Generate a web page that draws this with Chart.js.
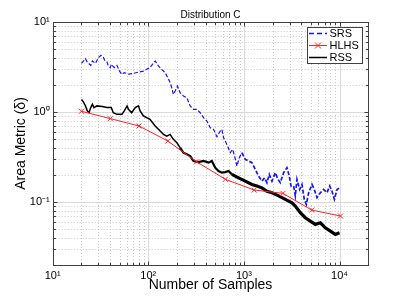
<!DOCTYPE html>
<html>
<head>
<meta charset="utf-8">
<script src="https://cdn.jsdelivr.net/npm/chart.js@4.4.0/dist/chart.umd.min.js"></script>
<style>
  html, body { margin: 0; padding: 0; background: #fff; }
  #wrap { width: 407px; height: 298px; }
</style>
</head>
<body>
<div id="wrap"><canvas id="chart"></canvas></div>
<script>
// values
const srsX = [20, 22, 23, 25, 26, 28, 30, 32, 34, 35, 37, 38, 40, 41, 44, 47, 50, 53, 56, 62,
  70, 79, 89, 96, 104, 118, 128, 138, 150, 163, 172, 183, 191, 202, 215, 233, 253, 274, 297, 322,
  349, 378, 410, 444, 481, 522, 565, 588, 613, 664, 719, 761, 799, 845, 894, 953, 1033, 1119, 1213, 1314,
  1424, 1543, 1646, 1741, 1842, 1965, 2129, 2270, 2401, 2602, 2819, 2983, 3105, 3312, 3448, 3589, 3828, 4049, 4282, 4495,
  4754, 5152, 5452, 5813, 6300, 6828, 7398, 7889, 8346, 8830, 9415, 10000];
const srsY = [3.47, 3.91, 3.59, 3.30, 3.69, 3.47, 4.02, 4.26, 4.02, 3.75, 3.59, 3.30, 3.11, 3.39, 3.11, 3.30, 2.85, 2.62, 2.74, 2.64,
  2.69, 2.78, 2.85, 2.98, 3.11, 3.69, 3.24, 2.98, 2.74, 2.31, 2.03, 1.57, 1.71, 1.94, 1.64, 1.51, 1.44, 1.17, 1.07, 1.07,
  0.983, 0.865, 0.794, 0.670, 0.642, 0.532, 0.615, 0.642, 0.519, 0.437, 0.353, 0.385, 0.324, 0.251, 0.311, 0.353, 0.298, 0.286, 0.274, 0.231,
  0.194, 0.171, 0.186, 0.164, 0.203, 0.171, 0.212, 0.179, 0.164, 0.212, 0.241, 0.194, 0.151, 0.151, 0.117, 0.179, 0.138, 0.157, 0.107, 0.094,
  0.127, 0.157, 0.138, 0.112, 0.127, 0.138, 0.127, 0.151, 0.132, 0.107, 0.138, 0.144];

const hlhsX = [20, 40, 80, 160, 320, 640, 1280, 2560, 5120, 10240];
const hlhsY = [1.02, 0.845, 0.70, 0.476, 0.28, 0.179, 0.136, 0.125, 0.0815, 0.070];

const rssX = [20, 21, 22, 23, 24, 25, 26, 27, 29, 33, 37, 41, 43, 47, 53, 56, 60, 62, 67, 73,
  79, 82, 89, 96, 104, 118, 133, 144, 156, 169, 183, 199, 215, 233, 253, 274, 297, 335, 378, 427,
  462, 501, 543, 588, 638, 691, 749, 879, 1033, 1213, 1368, 1543, 1741, 1965, 2307, 2709, 3181, 3448, 3890, 4388,
  4950, 5584, 6300, 7106, 8017, 9044, 10000];
const rssY = [1.38, 1.29, 1.17, 1.03, 0.983, 1.12, 1.22, 1.12, 1.17, 1.15, 1.12, 1.12, 0.983, 0.942, 0.942, 1.03, 1.17, 1.07, 0.983, 1.12,
  1.17, 1.03, 0.903, 0.865, 0.829, 0.699, 0.615, 0.565, 0.541, 0.565, 0.497, 0.456, 0.402, 0.353, 0.339, 0.324, 0.286, 0.278, 0.286, 0.274,
  0.286, 0.241, 0.221, 0.212, 0.215, 0.221, 0.203, 0.186, 0.171, 0.157, 0.151, 0.144, 0.132, 0.127, 0.117, 0.107, 0.0983, 0.0903, 0.0761, 0.0670,
  0.0615, 0.0565, 0.0589, 0.0519, 0.0476, 0.0437, 0.0456];

const xMajor = [10, 100, 1000, 10000];
const yMajor = [0.1, 1, 10];
const xTickLabels = ['10\u00b9', '10\u00b2', '10\u00b3', '10\u2074'];
const yTickLabels = ['10\u207b\u00b9', '10\u2070', '10\u00b9'];

const FONT = '"Liberation Sans", Arial, Helvetica, sans-serif';
const pts = (xs, ys) => xs.map((v, i) => ({ x: v, y: ys[i] }));

// minor grid positions (2..9 of each decade)
const xMinor = [], yMinor = [];
[10, 100, 1000, 10000].forEach(d => { for (let m = 2; m <= 9; m++) if (m * d <= 20000) xMinor.push(m * d); });
[0.01, 0.1, 1].forEach(d => { for (let m = 2; m <= 9; m++) yMinor.push(m * d); });

const framePlugin = {
  id: 'frame',
  beforeDatasetsDraw(chart) {
    const { ctx, chartArea: a, scales: { x, y } } = chart;
    ctx.save();
    ctx.lineWidth = 1;
    ctx.strokeStyle = '#c8c8c8';
    ctx.setLineDash([1, 2]);
    ctx.beginPath();
    xMinor.forEach(v => {
      const px = Math.round(x.getPixelForValue(v)) + 0.5;
      ctx.moveTo(px, a.top); ctx.lineTo(px, a.bottom);
    });
    yMinor.forEach(v => {
      const py = Math.round(y.getPixelForValue(v)) + 0.5;
      if (py <= a.top + 1 || py >= a.bottom - 1) return;
      ctx.moveTo(a.left, py); ctx.lineTo(a.right, py);
    });
    ctx.stroke();
    ctx.setLineDash([]);
    ctx.strokeStyle = '#dadada';
    ctx.beginPath();
    xMajor.forEach(v => {
      const px = Math.round(x.getPixelForValue(v)) + 0.5;
      ctx.moveTo(px, a.top); ctx.lineTo(px, a.bottom);
    });
    yMajor.forEach(v => {
      const py = Math.round(y.getPixelForValue(v)) + 0.5;
      ctx.moveTo(a.left, py); ctx.lineTo(a.right, py);
    });
    ctx.stroke();
    ctx.restore();
  },
  afterDatasetsDraw(chart) {
    const { ctx, chartArea: a, scales: { x, y } } = chart;
    const L = Math.round(a.left) + 0.5, R = Math.round(a.right) + 0.5;
    const T = Math.round(a.top) + 0.5, B = Math.round(a.bottom) + 0.5;
    ctx.save();
    ctx.strokeStyle = '#404040';
    ctx.lineWidth = 1;
    ctx.strokeRect(L, T, R - L, B - T);
    // inward ticks on all four sides
    ctx.beginPath();
    const xt = (v, len) => {
      const px = Math.round(x.getPixelForValue(v)) + 0.5;
      ctx.moveTo(px, B); ctx.lineTo(px, B - len);
      ctx.moveTo(px, T); ctx.lineTo(px, T + len);
    };
    const yt = (v, len) => {
      const py = Math.round(y.getPixelForValue(v)) + 0.5;
      ctx.moveTo(L, py); ctx.lineTo(L + len, py);
      ctx.moveTo(R, py); ctx.lineTo(R - len, py);
    };
    xMajor.forEach(v => xt(v, 4));
    xMinor.forEach(v => xt(v, 2.5));
    yMajor.forEach(v => yt(v, 4));
    yMinor.forEach(v => yt(v, 2.5));
    ctx.stroke();

    // legend
    const lx = 307.5, ly = 27.5, lw = 55, lh = 36;
    ctx.fillStyle = '#fff';
    ctx.fillRect(lx, ly, lw, lh);
    ctx.strokeStyle = '#404040';
    ctx.strokeRect(lx, ly, lw, lh);
    const rows = [33.5, 45.5, 57.5];
    ctx.font = '11px ' + FONT;
    ctx.textBaseline = 'middle';
    ctx.textAlign = 'left';
    chart.data.datasets.forEach((ds, i) => {
      const ry = rows[i];
      ctx.strokeStyle = ds.borderColor;
      ctx.lineWidth = ds.legendWidth;
      ctx.setLineDash(ds.legendDash || []);
      ctx.beginPath();
      ctx.moveTo(309, ry); ctx.lineTo(327, ry);
      ctx.stroke();
      ctx.setLineDash([]);
      if (ds.pointRadius > 0) {
        ctx.lineWidth = 1;
        const r = 3;
        ctx.beginPath();
        ctx.moveTo(318 - r, ry - r); ctx.lineTo(318 + r, ry + r);
        ctx.moveTo(318 - r, ry + r); ctx.lineTo(318 + r, ry - r);
        ctx.stroke();
      }
      ctx.fillStyle = '#000';
      ctx.fillText(ds.label, 329.5, ry + 0.5);
    });

    // titles
    ctx.fillStyle = '#000';
    ctx.textAlign = 'center';
    ctx.font = '10px ' + FONT;
    ctx.fillText('Distribution C', (a.left + a.right) / 2, 15);
    ctx.font = '14px ' + FONT;
    ctx.fillText('Number of Samples', (a.left + a.right) / 2, 285);
    ctx.translate(21, (a.top + a.bottom) / 2);
    ctx.rotate(-Math.PI / 2);
    ctx.fillText('Area Metric (\u03b4)', 0, 0);
    ctx.restore();
  }
};

new Chart(document.getElementById('chart'), {
  type: 'line',
  data: {
    datasets: [
      {
        label: 'SRS',
        data: pts(srsX, srsY),
        borderColor: 'rgb(20,20,255)',
        borderWidth: 1.2,
        legendWidth: 1.5,
        legendDash: [5, 3],
        borderDash: [4, 2],
        pointRadius: 0,
        order: 2,
        segment: { borderWidth: c => (c.p0.parsed.x > 900 ? 1.7 : 1.2) }
      },
      {
        label: 'HLHS',
        data: pts(hlhsX, hlhsY),
        borderColor: 'rgb(255,35,35)',
        borderWidth: 1,
        legendWidth: 1,
        pointStyle: 'crossRot',
        pointRadius: 3.5,
        pointBorderWidth: 1,
        pointBorderColor: 'rgb(255,35,35)',
        order: 0
      },
      {
        label: 'RSS',
        data: pts(rssX, rssY),
        borderColor: '#000',
        borderWidth: 1.5,
        legendWidth: 1.5,
        pointRadius: 0,
        order: 1,
        segment: { borderWidth: c => (c.p0.parsed.x >= 700 ? 3.2 : c.p0.parsed.x >= 200 ? 2.2 : 1.5) }
      }
    ]
  },
  options: {
    responsive: true,
    maintainAspectRatio: false,
    animation: false,
    devicePixelRatio: 1,
    layout: { padding: { top: 22, right: 38.7, left: 0, bottom: 0 } },
    plugins: { legend: { display: false }, tooltip: { enabled: false }, title: { display: false } },
    elements: { line: { tension: 0 } },
    scales: {
      x: {
        type: 'logarithmic',
        min: 10,
        max: 20000,
        grid: { display: false, drawTicks: false },
        border: { display: false },
        afterBuildTicks: s => { s.ticks = xMajor.map(v => ({ value: v })); },
        afterFit: s => { s.height = 33; },
        ticks: {
          autoSkip: false,
          maxRotation: 0,
          padding: 4,
          color: '#000',
          font: { family: FONT, size: 11 },
          callback: v => xTickLabels[xMajor.indexOf(v)]
        }
      },
      y: {
        type: 'logarithmic',
        min: 0.02,
        max: 10,
        grid: { display: false, drawTicks: false },
        border: { display: false },
        afterBuildTicks: s => { s.ticks = yMajor.map(v => ({ value: v })); },
        afterFit: s => { s.width = 52.7; },
        ticks: {
          autoSkip: false,
          padding: 3,
          color: '#000',
          font: { family: FONT, size: 11 },
          callback: v => yTickLabels[yMajor.findIndex(m => Math.abs(m - v) < 1e-9)]
        }
      }
    }
  },
  plugins: [framePlugin]
});
</script>
</body>
</html>
